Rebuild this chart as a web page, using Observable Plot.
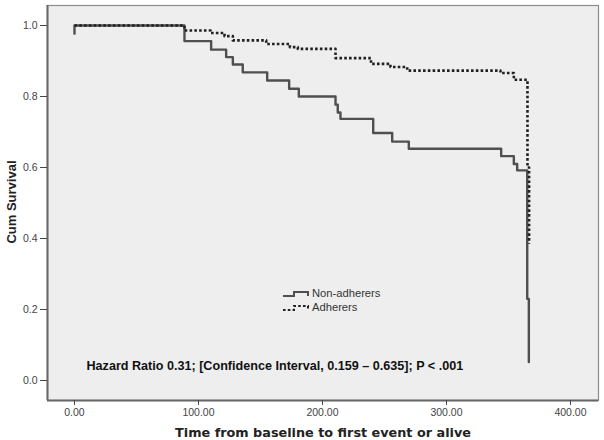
<!DOCTYPE html>
<html><head><meta charset="utf-8">
<script src="https://cdn.jsdelivr.net/npm/d3@7"></script>
<script src="https://cdn.jsdelivr.net/npm/@observablehq/plot@0.6"></script>
<style>
html,body{margin:0;padding:0;background:#fff;}
#wrap{position:relative;width:604px;height:440px;overflow:hidden;}
#legend{position:absolute;left:0;top:0;pointer-events:none;}
</style></head><body><div id="wrap"></div>
<script>
// Kaplan-Meier step data (time, cumulative survival)
const nonTimes = [0, 0, 88.7, 110.2, 122.3, 127.7, 135.7, 155.4, 173.1, 180.9, 210.5, 212.3, 214.5, 240.9, 256.2, 269.6, 344.1, 354.3, 357.0, 365.1, 366.4];
const nonSurv  = [0.977, 1.0, 0.956, 0.932, 0.911, 0.890, 0.868, 0.845, 0.822, 0.800, 0.777, 0.755, 0.737, 0.697, 0.673, 0.653, 0.632, 0.610, 0.592, 0.230, 0.052];
const adhTimes = [0, 88.7, 109.7, 121.0, 127.7, 154.6, 173.7, 180.1, 210.5, 239.1, 254.8, 268.3, 343.5, 354.3, 365.3, 366.6];
const adhSurv  = [1.0, 0.986, 0.979, 0.970, 0.958, 0.948, 0.939, 0.934, 0.908, 0.892, 0.883, 0.873, 0.866, 0.847, 0.600, 0.385];
const seriesNames = ["Non-adherers", "Adherers"];
const xTicks = [0, 100, 200, 300, 400];
const yTicks = [0, 0.2, 0.4, 0.6, 0.8, 1.0];
const xTitle = "Time from baseline to first event or alive";
const yTitle = "Cum Survival";
const note = "Hazard Ratio 0.31; [Confidence Interval, 0.159 \u2013 0.635]; P < .001";

const xDomain = [-21.77, 422.58];
const yDomain = [-0.0563, 1.0563];

const nonRows = nonTimes.map((t, i) => ({t, s: nonSurv[i], g: seriesNames[0]}));
const adhRows = adhTimes.map((t, i) => ({t, s: adhSurv[i], g: seriesNames[1]}));

const chart = Plot.plot({
  width: 604, height: 440,
  marginLeft: 47, marginRight: 6, marginTop: 5, marginBottom: 40,
  style: {background: "#fff", fontFamily: "Liberation Sans, Arial, sans-serif", overflow: "visible"},
  x: {domain: xDomain},
  y: {domain: yDomain},
  marks: [
    Plot.frame({fill: "#eeeeee", stroke: null}),
    Plot.line(nonRows, {x: "t", y: "s", curve: "step-after", stroke: "#4f4f4f", strokeWidth: 2.4}),
    Plot.line(adhRows, {x: "t", y: "s", curve: "step-after", stroke: "#222", strokeWidth: 2.6, strokeDasharray: "2.6,2.2", strokeLinecap: "butt"}),
    Plot.frame({stroke: "#8c8c8c", strokeWidth: 1.2}),
    Plot.ruleX([xDomain[0]], {stroke: "#666", strokeWidth: 2}),
    Plot.ruleY([yDomain[0]], {stroke: "#666", strokeWidth: 2}),
    Plot.axisX({ticks: xTicks, tickFormat: ".2f", tickSize: 5, tickPadding: 3, fontSize: 10.5, color: "#444", label: null}),
    Plot.axisY({ticks: yTicks, tickFormat: ".1f", tickSize: 7, tickPadding: 3, fontSize: 10.5, color: "#444", label: null}),
    Plot.text([note], {text: d => d, frameAnchor: "bottom-left", dx: 39, dy: -35, lineAnchor: "middle", fontWeight: "bold", fontSize: 12.6, fill: "#111"}),
    Plot.text([yTitle], {text: d => d, frameAnchor: "left", rotate: -90, textAnchor: "middle", lineAnchor: "middle", dx: -36, dy: -1, fontWeight: "bold", fontSize: 13, fill: "#222"}),
    Plot.text([xTitle], {text: d => d, frameAnchor: "bottom", textAnchor: "middle", lineAnchor: "middle", dy: 32, fontWeight: "bold", fontSize: 12.8, fontFamily: "DejaVu Sans", fill: "#222"})
  ]
});
const wrap = document.getElementById("wrap");
wrap.appendChild(chart);

// legend overlay
const ns = "http://www.w3.org/2000/svg";
const leg = document.createElementNS(ns, "svg");
leg.setAttribute("id", "legend");
leg.setAttribute("width", 604);
leg.setAttribute("height", 440);
const items = [
  {name: seriesNames[0], y: 293, stroke: "#4f4f4f", dash: null},
  {name: seriesNames[1], y: 307, stroke: "#222", dash: "2.6,2.2"}
];
items.forEach(it => {
  const p = document.createElementNS(ns, "path");
  p.setAttribute("d", `M283,${it.y + 3} H294 V${it.y - 1} H308 V${it.y + 3}`);
  p.setAttribute("fill", "none");
  p.setAttribute("stroke", it.stroke);
  p.setAttribute("stroke-width", 2);
  if (it.dash) p.setAttribute("stroke-dasharray", it.dash);
  leg.appendChild(p);
  const t = document.createElementNS(ns, "text");
  t.setAttribute("x", 312);
  t.setAttribute("y", it.y);
  t.setAttribute("dy", "0.35em");
  t.setAttribute("font-family", "Liberation Sans, Arial, sans-serif");
  t.setAttribute("font-size", 11.2);
  t.setAttribute("fill", "#333");
  t.textContent = it.name;
  leg.appendChild(t);
});
wrap.appendChild(leg);
</script>
</body></html>
